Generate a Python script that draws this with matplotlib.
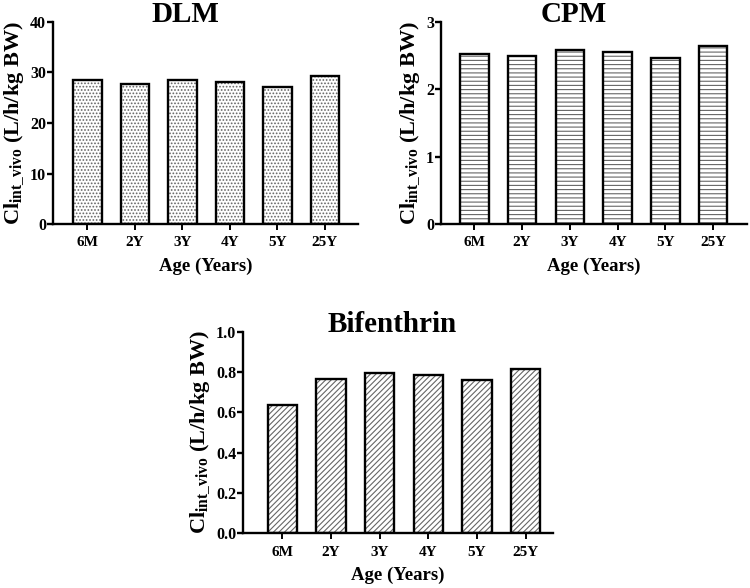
import matplotlib
matplotlib.use("Agg")
import matplotlib.pyplot as plt
import numpy as np

ages = ["6M", "2Y", "3Y", "4Y", "5Y", "25Y"]
dlm = [28.6, 27.8, 28.6, 28.2, 27.1, 29.4]
cpm = [2.53, 2.50, 2.58, 2.55, 2.46, 2.64]
bifenthrin = [0.636, 0.764, 0.797, 0.787, 0.759, 0.815]

plt.rcParams['font.family'] = ['Liberation Serif', 'DejaVu Serif']
plt.rcParams['font.weight'] = 'bold'
plt.rcParams['mathtext.fontset'] = 'custom'
plt.rcParams['mathtext.rm'] = 'Liberation Serif:bold'
plt.rcParams['mathtext.it'] = 'Liberation Serif:bold'
plt.rcParams['mathtext.bf'] = 'Liberation Serif:bold'
plt.rcParams['hatch.linewidth'] = 0.8

fig = plt.figure(figsize=(7.5, 5.88), dpi=100)
W, H = 750.0, 588.0

def rect(l, r, t, b):
    return [l / W, (H - b) / H, (r - l) / W, (b - t) / H]

panels = [
    ("DLM", dlm, rect(53, 358, 22, 224), (-0.726, 5.695), (0, 40), [0, 10, 20, 30, 40], '.....', "{:.0f}", 0.433),
    ("CPM", cpm, rect(441, 747, 22, 224), (-0.70, 5.71), (0, 3), [0, 1, 2, 3], '----', "{:.0f}", 0.435),
    ("Bifenthrin", bifenthrin, rect(243, 553, 332, 533), (-0.81, 5.56), (0, 1.0), [0, 0.2, 0.4, 0.6, 0.8, 1.0], '//////', "{:.1f}", 0.48),
]

x = np.arange(len(ages))
for title, vals, r, xlim, ylim, yticks, hatch, fmt, tx in panels:
    ax = fig.add_axes(r)
    ax.bar(x, vals, width=0.6, color='white', hatch=hatch, edgecolor='#666666', linewidth=0)
    ax.bar(x, vals, width=0.6, fill=False, edgecolor='black', linewidth=1.7)
    ax.set_xlim(*xlim)
    ax.set_ylim(*ylim)
    ax.set_yticks(yticks)
    ax.set_yticklabels([fmt.format(v) for v in yticks])
    ax.set_xticks(x)
    ax.set_xticklabels(ages)
    for s in ['top', 'right']:
        ax.spines[s].set_visible(False)
    for s in ['left', 'bottom']:
        ax.spines[s].set_linewidth(1.7)
    ax.tick_params(axis='y', direction='out', length=4, width=1.7, labelsize=11.5, pad=1)
    ax.tick_params(axis='x', direction='out', length=4, width=1.4, labelsize=11, pad=5)
    for lab in ax.get_xticklabels() + ax.get_yticklabels():
        lab.set_fontweight('bold')
    ax.text(tx, 1.0, title, transform=ax.transAxes, ha='center', va='baseline',
            fontsize=21, fontweight='bold')
    ax.set_xlabel("Age (Years)", fontsize=13.5, fontweight='bold', labelpad=6)
    ax.set_ylabel(r"Cl$_{\mathrm{int\_vivo}}$ (L/h/kg BW)", fontsize=16, fontweight='bold', labelpad=3)

fig.savefig("out.png", dpi=100)
